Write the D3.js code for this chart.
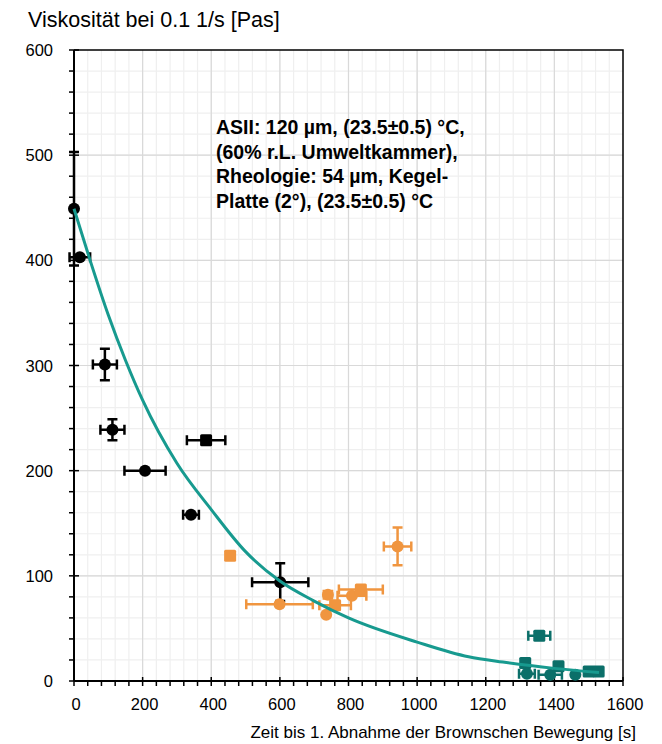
<!DOCTYPE html>
<html>

<head>
  <meta charset="utf-8">
  <script src="https://d3js.org/d3.v7.min.js"></script>
  <style>
    body {
      margin: 0;
      background: #fff;
    }

    text {
      font-family: "Liberation Sans", Arial, sans-serif;
      fill: #000;
    }

    .tick-label {
      font-size: 16.5px;
    }

    .note {
      font-weight: bold;
      font-size: 19.5px;
    }
  </style>
</head>

<body>
  <div id="chart"></div>
  <script>
    // rows: [time s, viscosity Pas, time error, viscosity error, marker]
    var blackPoints = [
      [0, 449, 0, 54, "circle"],
      [17, 403, 30, 0, "circle"],
      [90, 301, 35, 15, "circle"],
      [112, 239, 35, 10, "circle"],
      [207, 200, 60, 0, "circle"],
      [385, 229, 56, 0, "square"],
      [341, 158, 23, 0, "circle"],
      [601, 94, 82, 18, "circle"]
    ];

    var orangePoints = [
      [455, 119, 0, 0, "square"],
      [599, 73, 97, 0, "circle"],
      [740, 82, 12, 0, "circle"],
      [735, 63, 0, 0, "circle"],
      [761, 72, 46, 0, "square"],
      [810, 81, 42, 0, "circle"],
      [836, 87, 64, 0, "square"],
      [943, 128, 40, 18, "circle"]
    ];

    var tealPoints = [
      [1356, 43, 32, 0, "square"],
      [1315, 17, 0, 0, "square"],
      [1320, 7, 23, 0, "circle"],
      [1388, 6, 34, 0, "circle"],
      [1412, 14, 0, 0, "square"],
      [1461, 6, 0, 0, "circle"],
      [1500, 9, 0, 0, "square"],
      [1529, 9, 0, 0, "square"]
    ];

    // fitted decay curve
    var fitTime = [0, 47, 100, 150, 200, 300, 400, 500, 600, 700, 800, 1000, 1150, 1250, 1400, 1530];
    var fitVisc = [449, 400, 348, 305, 267, 207, 163, 123, 95, 76, 60, 37, 23, 18, 12, 8];

    var xTicks = [0, 200, 400, 600, 800, 1000, 1200, 1400, 1600];
    var yTicks = [0, 100, 200, 300, 400, 500, 600];

    var noteLines = [
      "ASII: 120 µm, (23.5±0.5) °C,",
      "(60% r.L. Umweltkammer),",
      "Rheologie: 54 µm, Kegel-",
      "Platte (2°), (23.5±0.5) °C"
    ];

    var width = 662, height = 744;
    var margin = { top: 50, right: 39, bottom: 63, left: 74 };

    var svg = d3.select("#chart").append("svg")
      .attr("width", width)
      .attr("height", height);

    var x = d3.scaleLinear().domain([0, 1600]).range([margin.left, width - margin.right]);
    var y = d3.scaleLinear().domain([0, 600]).range([height - margin.bottom, margin.top]);

    // grid: minor every 40 s / 20 Pas, major every 200 s / 100 Pas
    var grid = svg.append("g");
    grid.selectAll(".vminor").data(d3.range(40, 1600, 40)).enter().append("line")
      .attr("x1", d => x(d)).attr("x2", d => x(d))
      .attr("y1", y(0)).attr("y2", y(600))
      .attr("stroke", "#efefef").attr("stroke-width", 1.2);
    grid.selectAll(".hminor").data(d3.range(20, 600, 20)).enter().append("line")
      .attr("x1", x(0)).attr("x2", x(1600))
      .attr("y1", d => y(d)).attr("y2", d => y(d))
      .attr("stroke", "#efefef").attr("stroke-width", 1.2);
    grid.selectAll(".vmajor").data(xTicks.slice(1, -1)).enter().append("line")
      .attr("x1", d => x(d)).attr("x2", d => x(d))
      .attr("y1", y(0)).attr("y2", y(600))
      .attr("stroke", "#d9d9d9").attr("stroke-width", 1.2);
    grid.selectAll(".hmajor").data(yTicks.slice(1, -1)).enter().append("line")
      .attr("x1", x(0)).attr("x2", x(1600))
      .attr("y1", d => y(d)).attr("y2", d => y(d))
      .attr("stroke", "#d9d9d9").attr("stroke-width", 1.2);

    // frame top and right
    svg.append("path")
      .attr("d", "M" + x(0) + "," + y(600) + "H" + x(1600) + "V" + y(0))
      .attr("fill", "none").attr("stroke", "#000").attr("stroke-width", 1.5);

    // y axis with minor ticks
    var yAxis = svg.append("g");
    yAxis.selectAll("line.minor").data(d3.range(0, 601, 20)).enter().append("line")
      .attr("x1", x(0) - 5).attr("x2", d => d % 100 === 0 ? x(0) + 5 : x(0))
      .attr("y1", d => y(d)).attr("y2", d => y(d))
      .attr("stroke", "#000").attr("stroke-width", 1.5);
    yAxis.append("line")
      .attr("x1", x(0)).attr("x2", x(0)).attr("y1", y(0)).attr("y2", y(600))
      .attr("stroke", "#000").attr("stroke-width", 2);
    yAxis.selectAll("text").data(yTicks).enter().append("text")
      .attr("class", "tick-label")
      .attr("x", x(0) - 21).attr("y", d => y(d) + 6)
      .attr("text-anchor", "end")
      .text(d => d);

    // x axis with minor ticks
    var xAxis = svg.append("g");
    xAxis.selectAll("line").data(d3.range(0, 1601, 40)).enter().append("line")
      .attr("x1", d => x(d)).attr("x2", d => x(d))
      .attr("y1", d => d % 200 === 0 ? y(0) - 4 : y(0)).attr("y2", y(0) + 5)
      .attr("stroke", "#000").attr("stroke-width", 1.5);
    xAxis.append("line")
      .attr("x1", x(0)).attr("x2", x(1600)).attr("y1", y(0)).attr("y2", y(0))
      .attr("stroke", "#000").attr("stroke-width", 2);
    xAxis.selectAll("text").data(xTicks).enter().append("text")
      .attr("class", "tick-label")
      .attr("x", d => x(d) + 2).attr("y", y(0) + 29)
      .attr("text-anchor", "middle")
      .text(d => d);

    svg.append("text")
      .attr("x", 28).attr("y", 27)
      .style("font-size", "21.5px")
      .text("Viskosität bei 0.1 1/s [Pas]");

    svg.append("text")
      .attr("x", 636).attr("y", 738)
      .attr("text-anchor", "end")
      .style("font-size", "17px")
      .text("Zeit bis 1. Abnahme der Brownschen Bewegung [s]");

    // fit line
    var line = d3.line()
      .x((d, i) => x(fitTime[i]))
      .y(d => y(d))
      .curve(d3.curveMonotoneX);

    function drawSeries(rows, color) {
      var g = svg.append("g");
      var cap = 5;
      rows.forEach(function (r) {
        var cx = x(r[0]), cy = y(r[1]);
        if (r[2] > 0) {
          var x0 = x(r[0] - r[2]), x1 = x(r[0] + r[2]);
          g.append("path")
            .attr("d", "M" + x0 + "," + cy + "H" + x1 +
              "M" + x0 + "," + (cy - cap) + "V" + (cy + cap) +
              "M" + x1 + "," + (cy - cap) + "V" + (cy + cap))
            .attr("fill", "none").attr("stroke", color).attr("stroke-width", 2.5);
        }
        if (r[3] > 0) {
          var y0 = y(r[1] - r[3]), y1 = y(r[1] + r[3]);
          g.append("path")
            .attr("d", "M" + cx + "," + y0 + "V" + y1 +
              "M" + (cx - cap) + "," + y0 + "H" + (cx + cap) +
              "M" + (cx - cap) + "," + y1 + "H" + (cx + cap))
            .attr("fill", "none").attr("stroke", color).attr("stroke-width", 2.5);
        }
        if (r[4] === "square") {
          g.append("rect")
            .attr("x", cx - 6).attr("y", cy - 6)
            .attr("width", 12).attr("height", 12)
            .attr("rx", 1.5)
            .attr("fill", color);
        } else {
          g.append("circle")
            .attr("cx", cx).attr("cy", cy).attr("r", 6)
            .attr("fill", color);
        }
      });
    }

    drawSeries(blackPoints, "#000");
    drawSeries(orangePoints, "#f0953f");
    drawSeries(tealPoints, "#0b6f69");

    svg.append("path")
      .datum(fitVisc)
      .attr("d", line)
      .attr("fill", "none")
      .attr("stroke", "#179a8f")
      .attr("stroke-width", 3);

    svg.append("g").selectAll("text").data(noteLines).enter().append("text")
      .attr("class", "note")
      .attr("x", 216)
      .attr("y", (d, i) => 134 + i * 24.5)
      .text(d => d);
  </script>
</body>

</html>
